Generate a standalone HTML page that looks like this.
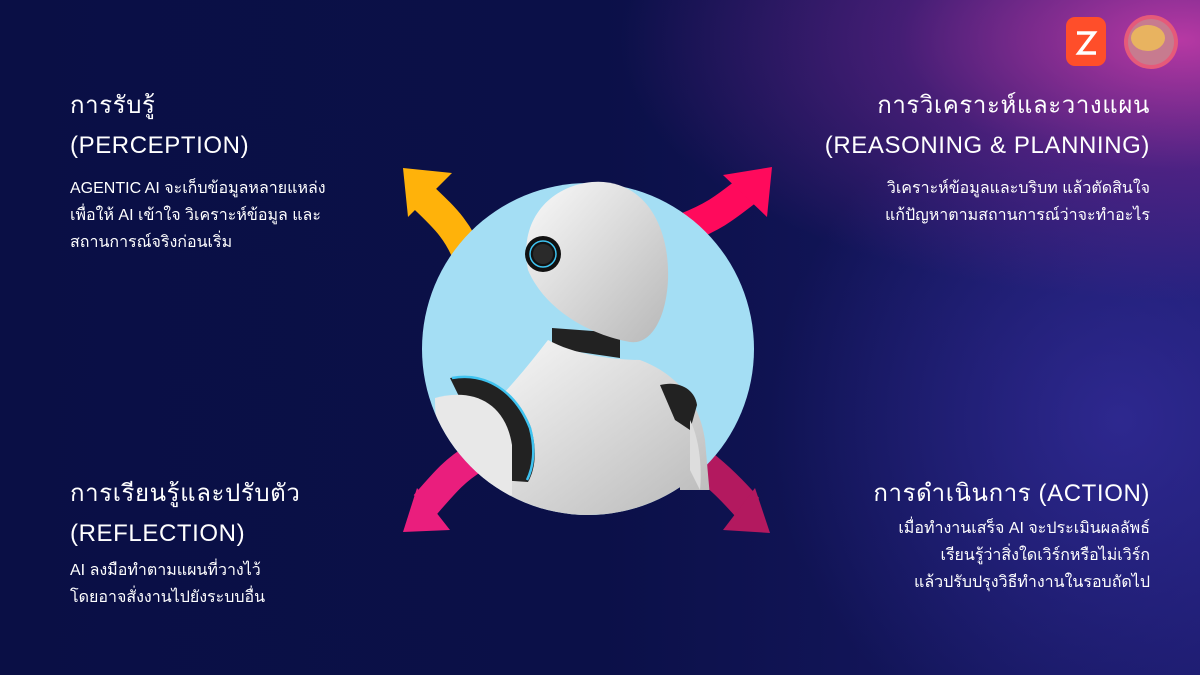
<!DOCTYPE html>
<html><head><meta charset="utf-8"><style>
html,body{margin:0;padding:0}
body{width:1200px;height:675px;overflow:hidden;position:relative;font-family:"Liberation Sans","DejaVu Sans",sans-serif;color:#fff;
background:
radial-gradient(ellipse 560px 260px at 1180px 40px, rgba(200,60,170,0.9), rgba(130,40,150,0.45) 50%, rgba(0,0,0,0) 100%),
radial-gradient(ellipse 500px 500px at 1120px 420px, rgba(60,50,170,0.6), rgba(0,0,0,0) 70%),
linear-gradient(90deg,#0a0f45 0%,#0b1048 50%,#1a1a6a 100%);}
.t{position:absolute;font-size:24px;line-height:40px;letter-spacing:0.6px;font-weight:500}
.b{position:absolute;font-size:16px;line-height:27px}
.r{text-align:right}
</style></head><body>
<div class="t" style="left:70px;top:86px">การรับรู้<br>(PERCEPTION)</div>
<div class="b" style="left:70px;top:175px">AGENTIC AI จะเก็บข้อมูลหลายแหล่ง<br>เพื่อให้ AI เข้าใจ วิเคราะห์ข้อมูล และ<br>สถานการณ์จริงก่อนเริ่ม</div>
<div class="t r" style="right:50px;top:86px">การวิเคราะห์และวางแผน<br>(REASONING &amp; PLANNING)</div>
<div class="b r" style="right:50px;top:175px">วิเคราะห์ข้อมูลและบริบท แล้วตัดสินใจ<br>แก้ปัญหาตามสถานการณ์ว่าจะทำอะไร</div>
<div class="t" style="left:70px;top:474px">การเรียนรู้และปรับตัว<br>(REFLECTION)</div>
<div class="b" style="left:70px;top:557px">AI ลงมือทำตามแผนที่วางไว้<br>โดยอาจสั่งงานไปยังระบบอื่น</div>
<div class="t r" style="right:50px;top:474px">การดำเนินการ (ACTION)</div>
<div class="b r" style="right:50px;top:515px">เมื่อทำงานเสร็จ AI จะประเมินผลลัพธ์<br>เรียนรู้ว่าสิ่งใดเวิร์กหรือไม่เวิร์ก<br>แล้วปรับปรุงวิธีทำงานในรอบถัดไป</div>

<svg width="1200" height="675" style="position:absolute;left:0;top:0">
<path d="M470 262 C460 232 445 218 424 198" stroke="#ffb20a" stroke-width="30" fill="none"/>
<polygon points="403,168 452,173 408,217" fill="#ffb20a"/>
<path d="M685 228 C718 215 728 205 748 190" stroke="#ff0a5c" stroke-width="30" fill="none"/>
<polygon points="772,167 723,175 767,217" fill="#ff0a5c"/>
<path d="M475 458 C455 470 445 482 425 505" stroke="#ea1e7d" stroke-width="30" fill="none"/>
<polygon points="403,532 417,488 450,530" fill="#ea1e7d"/>
<path d="M700 462 C720 478 732 490 748 508" stroke="#b3195f" stroke-width="30" fill="none"/>
<polygon points="770,533 755,488 723,530" fill="#b3195f"/>
<circle cx="588" cy="349" r="166" fill="#a4def4"/>
<defs>
<linearGradient id="w" x1="0" y1="0" x2="1" y2="1"><stop offset="0" stop-color="#fafafa"/><stop offset="1" stop-color="#b8b8b8"/></linearGradient>
<clipPath id="c"><circle cx="588" cy="349" r="166"/><rect x="560" y="150" width="240" height="190"/><rect x="520" y="170" width="160" height="180"/><rect x="680" y="380" width="40" height="110"/></clipPath>
</defs>
<g clip-path="url(#c)">
<path d="M552 328 L552 348 L620 358 L620 333 Z" fill="#222"/>
<path d="M548 340 C575 355 615 360 640 360 C680 375 700 405 705 440 L712 520 L470 520 L475 420 C500 400 525 370 548 340 Z" fill="url(#w)"/>
<path d="M660 385 C680 380 695 390 697 405 L690 430 L675 420 Z" fill="#222"/>
<path d="M690 420 C700 440 702 470 700 490 L690 470 Z" fill="#ddd"/>
<path d="M450 378 C485 372 515 390 530 425 C538 450 535 470 528 482 L500 480 Z" fill="#222"/>
<path d="M452 378 C485 372 515 390 530 428 C536 450 533 468 527 480" fill="none" stroke="#3fc3f0" stroke-width="2.5"/>
<path d="M435 398 C470 388 505 400 512 445 L512 495 L470 505 C445 470 435 440 435 398 Z" fill="#e8e8e8"/>
<path d="M592 182 C640 178 670 220 668 280 C666 320 650 345 630 342 C590 335 545 310 528 270 C518 220 550 186 592 182 Z" fill="url(#w)"/>
<circle cx="543" cy="254" r="18" fill="#111"/>
<circle cx="543" cy="254" r="13" fill="none" stroke="#3fc3f0" stroke-width="1.5"/>
<circle cx="543" cy="254" r="10" fill="#2a2a2a"/>
</g>
<rect x="1066" y="17" width="40" height="49" rx="9" fill="#ff4e2a"/>
<path d="M1077 33 H1094 L1079 53 H1096" stroke="#fff" stroke-width="3.5" fill="none"/>
<circle cx="1151" cy="42" r="27" fill="#e55a7a"/>
<circle cx="1151" cy="42" r="23" fill="#c77b8f"/>
<ellipse cx="1148" cy="38" rx="17" ry="13" fill="#e8b360"/>
</svg>
</body></html>
